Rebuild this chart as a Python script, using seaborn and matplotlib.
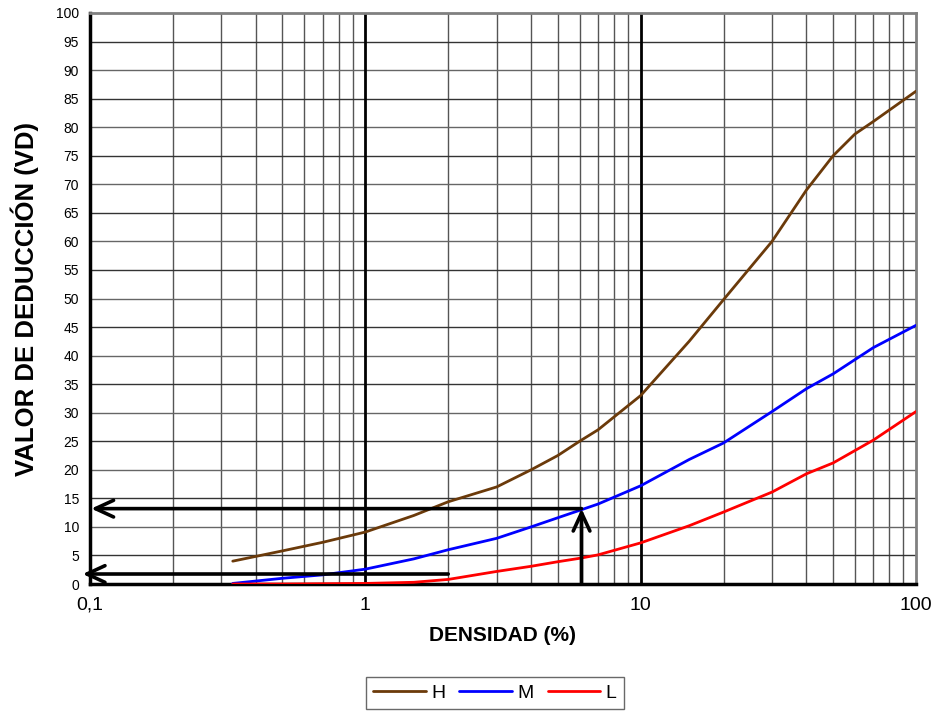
import numpy as np
import pandas as pd
import matplotlib
matplotlib.use("Agg")
import matplotlib.pyplot as plt
import seaborn as sns
from matplotlib.lines import Line2D

# Data
h_x = [0.33, 0.5, 0.7, 1, 1.5, 2, 3, 4, 5, 6, 7, 10, 15, 20, 30, 40, 50, 60, 70, 100]
h_y = [4.0, 5.8, 7.3, 9.1, 12.0, 14.4, 17.0, 20.0, 22.5, 25.0, 27.0, 33.0, 42.5, 49.8, 60.0, 69.0, 75.0, 78.8, 81.0, 86.3]
m_x = [0.33, 0.5, 0.7, 1, 1.5, 2, 3, 4, 5, 6, 7, 10, 15, 20, 30, 40, 50, 70, 100]
m_y = [0.1, 1.0, 1.6, 2.6, 4.4, 6.0, 8.0, 10.0, 11.6, 12.9, 14.0, 17.2, 21.8, 24.7, 30.2, 34.2, 36.8, 41.4, 45.3]
l_x = [0.33, 0.5, 1, 1.5, 2, 3, 4, 5, 6, 7, 10, 15, 20, 30, 40, 50, 70, 100]
l_y = [0.0, 0.0, 0.1, 0.3, 0.8, 2.2, 3.1, 3.9, 4.5, 5.1, 7.2, 10.2, 12.6, 16.1, 19.3, 21.2, 25.2, 30.2]
series_names = ["H", "M", "L"]
series_colors = ["#6B3A0A", "#0000FF", "#FF0000"]
y_ticks = list(range(0, 101, 5))
x_ticks = [0.1, 1, 10, 100]
x_tick_labels = ["0,1", "1", "10", "100"]
# Reading example (arrows)
read_x = 6.1
read_y_m = 13.2
read_x_l = 2.0
read_y_l = 1.75

sns.set_style("white")
plt.rcParams["font.family"] = ["Liberation Sans", "DejaVu Sans"]
plt.rcParams["text.color"] = "black"
plt.rcParams["axes.labelcolor"] = "black"
plt.rcParams["xtick.color"] = "black"
plt.rcParams["ytick.color"] = "black"

df = pd.concat([
    pd.DataFrame({"x": h_x, "y": h_y, "s": "H"}),
    pd.DataFrame({"x": m_x, "y": m_y, "s": "M"}),
    pd.DataFrame({"x": l_x, "y": l_y, "s": "L"}),
], ignore_index=True)

fig = plt.figure(figsize=(9.37, 7.11), dpi=100)
ax = fig.add_axes([90 / 937, 1 - 584 / 711, (916 - 90) / 937, (584 - 13) / 711])
ax.set_xscale("log")
ax.set_xlim(0.1, 100)
ax.set_ylim(0, 100)

# grid
for dec in [0.1, 1, 10]:
    for k in range(2, 10):
        ax.axvline(dec * k, color="#555555", lw=1.0, zorder=1)
for dec in [1, 10]:
    ax.axvline(dec, color="black", lw=2.0, zorder=1.5)
for yv in y_ticks[1:-1]:
    ax.axhline(yv, color="#333333" if yv % 10 else "#666666", lw=1.0, zorder=1)

sns.lineplot(data=df, x="x", y="y", hue="s", hue_order=series_names,
             palette=dict(zip(series_names, series_colors)), sort=False,
             lw=2.0, ax=ax, legend=False, zorder=3)

# arrows
akw = dict(arrowstyle="->,head_length=1.3,head_width=0.6", color="black", lw=2.6,
           shrinkA=0, shrinkB=0)
ax.annotate("", xy=(0.101, read_y_m), xytext=(read_x, read_y_m), arrowprops=akw, zorder=4,
            annotation_clip=False)
ax.annotate("", xy=(read_x, read_y_m), xytext=(read_x, 0), arrowprops=akw, zorder=4,
            annotation_clip=False)
ax.annotate("", xy=(0.094, read_y_l), xytext=(read_x_l, read_y_l), arrowprops=akw, zorder=4,
            annotation_clip=False)

ax.set_yticks(y_ticks)
ax.set_yticklabels([str(v) for v in y_ticks], fontsize=10)
ax.set_xticks(x_ticks)
ax.set_xticklabels(x_tick_labels, fontsize=14)
ax.xaxis.set_minor_locator(matplotlib.ticker.NullLocator())
ax.tick_params(axis="y", direction="out", length=5, width=2, color="black", pad=3)
ax.tick_params(axis="x", direction="out", length=5, width=2, color="black", pad=4)

for side in ["left", "bottom"]:
    ax.spines[side].set_color("black")
    ax.spines[side].set_linewidth(2.5)
for side in ["top", "right"]:
    ax.spines[side].set_color("#808080")
    ax.spines[side].set_linewidth(2.0)

ax.set_xlabel("DENSIDAD (%)", fontsize=15, fontweight="bold", labelpad=9)
ax.set_ylabel("VALOR DE DEDUCCIÓN (VD)", fontsize=18.5, fontweight="bold", labelpad=12)

handles = [Line2D([0], [0], color=c, lw=2) for c in series_colors]
leg = fig.legend(handles, series_names, loc="center", bbox_to_anchor=(495 / 937, 1 - 693 / 711),
                 ncol=3, frameon=True, fancybox=False, edgecolor="#444444", fontsize=14,
                 handlelength=2.7, columnspacing=0.7, handletextpad=0.3, borderpad=0.35)
leg.get_frame().set_linewidth(1.0)

fig.savefig("out.png", dpi=100)
